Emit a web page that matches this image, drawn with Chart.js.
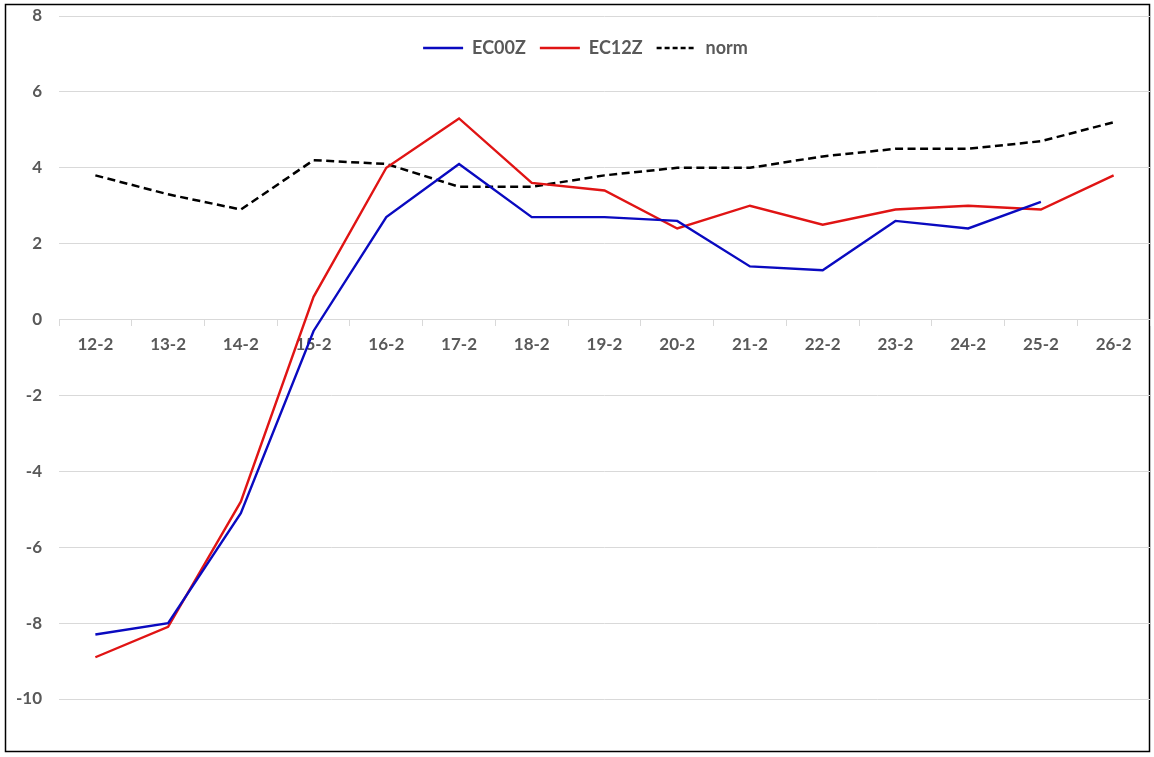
<!DOCTYPE html>
<html>
<head>
<meta charset="utf-8">
<script src="https://cdn.jsdelivr.net/npm/chart.js@4"></script>
<style>
html,body{margin:0;padding:0;background:#fff;}
#wrap{width:1154px;height:757px;position:relative;}
</style>
</head>
<body>
<div id="wrap"><canvas id="c" width="1154" height="757"></canvas></div>
<script>
const categories = ['12-2','13-2','14-2','15-2','16-2','17-2','18-2','19-2','20-2','21-2','22-2','23-2','24-2','25-2','26-2'];
const ec00z = [-8.3,-8.0,-5.1,-0.3,2.7,4.1,2.7,2.7,2.6,1.4,1.3,2.6,2.4,3.1,null];
const ec12z = [-8.9,-8.1,-4.8,0.6,4.0,5.3,3.6,3.4,2.4,3.0,2.5,2.9,3.0,2.9,3.8];
const norm  = [3.8,3.3,2.9,4.2,4.1,3.5,3.5,3.8,4.0,4.0,4.3,4.5,4.5,4.7,5.2];
const yTicks = [-10,-8,-6,-4,-2,0,2,4,6,8];

const textColor = '#595959';
const gridColor = '#d9d9d9';

const frame = {
  id: 'frame',
  beforeDraw(chart) {
    const ctx = chart.ctx;
    ctx.save();
    ctx.fillStyle = '#fff';
    ctx.fillRect(0, 0, chart.width, chart.height);
    ctx.strokeStyle = '#000';
    ctx.lineWidth = 1.5;
    ctx.strokeRect(5.5, 4.5, 1144, 747);
    ctx.restore();
  }
};
// Let the legend float over the plot (as in the original) instead of taking space at the top.
const legendPlace = {
  id: 'legendPlace',
  beforeLayout(chart) {
    const lg = chart.legend;
    if (!lg || lg._patched) return;
    const origFit = lg.fit;
    lg.fit = function() {
      origFit.call(this);
      this._realHeight = this.height;
      this.height = 0;
    };
    lg._patched = true;
  },
  afterLayout(chart) {
    const lg = chart.legend;
    if (!lg) return;
    const h = lg._realHeight || 30;
    lg.left = 21; lg.right = 1150; lg.width = 1129;
    lg.top = 25; lg.height = h; lg.bottom = 25 + h;
  }
};

new Chart(document.getElementById('c'), {
  type: 'line',
  data: {
    labels: categories,
    datasets: [
      {label: 'EC00Z', data: ec00z, borderColor: '#0a0ac0', backgroundColor: '#0a0ac0', borderWidth: 2.4, pointRadius: 0, pointStyle: 'line', tension: 0},
      {label: 'EC12Z', data: ec12z, borderColor: '#e01414', backgroundColor: '#e01414', borderWidth: 2.4, pointRadius: 0, pointStyle: 'line', tension: 0},
      {label: 'norm', data: norm, borderColor: '#000', backgroundColor: '#000', borderWidth: 2.5, borderDash: [8,4.5], pointRadius: 0, pointStyle: 'line', tension: 0}
    ]
  },
  options: {
    responsive: false,
    animation: false,
    devicePixelRatio: 1,
    layout: {padding: {left: 0, top: 16, right: 4, bottom: 58}},
    plugins: {
      tooltip: {enabled: false},
      legend: {
        position: 'top',
        align: 'center',
        labels: {
          usePointStyle: true,
          pointStyleWidth: 40,
          padding: 14,
          color: textColor,
          font: {family: 'Lato', weight: 'bold', size: 18},
          generateLabels(chart) {
            const items = Chart.defaults.plugins.legend.labels.generateLabels(chart);
            items.forEach(it => {
              const ds = chart.data.datasets[it.datasetIndex];
              it.pointStyle = 'line';
              it.lineDash = ds.borderDash ? [5, 3] : [];
              it.lineWidth = ds.borderWidth;
              it.strokeStyle = ds.borderColor;
              it.fillStyle = ds.borderColor;
            });
            return items;
          }
        }
      }
    },
    scales: {
      x: {
        position: {y: 0},
        offset: true,
        border: {display: true, color: gridColor, width: 1},
        grid: {display: true, drawOnChartArea: false, drawTicks: true, tickLength: 6, offset: true, color: gridColor},
        ticks: {color: textColor, padding: 9, maxRotation: 0, autoSkip: false, font: {family: 'Lato', weight: 'bold', size: 17}}
      },
      y: {
        min: -10, max: 8,
        afterFit(s) { s.width = 59; },
        afterBuildTicks(s) { s.ticks = yTicks.map(v => ({value: v})); },
        border: {display: false},
        grid: {color: gridColor, lineWidth: 1, drawTicks: true, tickLength: 17, tickColor: 'rgba(0,0,0,0)'},
        ticks: {color: textColor, padding: 0, font: {family: 'Lato', weight: 'bold', size: 17}}
      }
    }
  },
  plugins: [frame, legendPlace]
});
</script>
</body>
</html>
